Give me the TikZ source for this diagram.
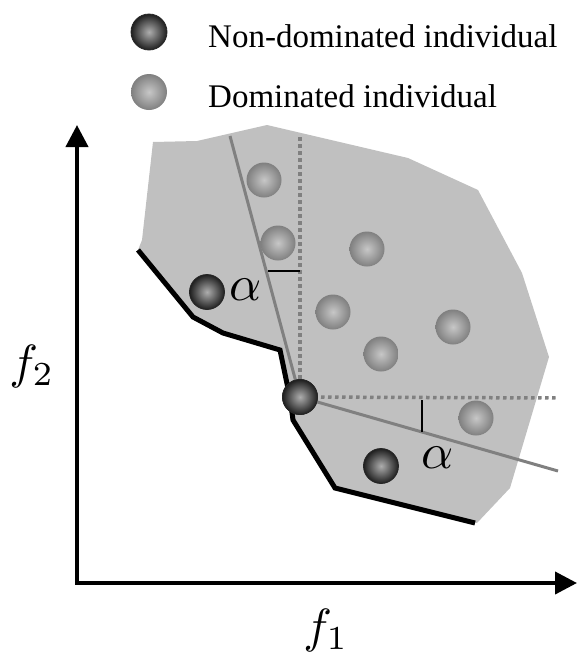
\documentclass[tikz,border=0pt]{standalone}
\usepackage{fontspec}
\setmainfont{Liberation Serif}
\usetikzlibrary{arrows.meta}
\definecolor{regiongray}{RGB}{192,192,192}
\definecolor{conegray}{RGB}{128,128,128}
\tikzset{
  ball/.style={circle, minimum size=35pt, inner sep=0pt, shading=radial},
  ndom/.style={ball, inner color=black!32, outer color=black!88, draw=black!85, line width=0.8pt},
  dom/.style={ball, inner color=black!22, outer color=black!50},
  axis/.style={line width=4pt, {Triangle[length=22pt,width=22pt]}-{Triangle[length=22pt,width=22pt]}},
  front/.style={line width=5pt, line join=miter},
  cone/.style={conegray, line width=3pt},
  dots/.style={conegray, line width=3.5pt, dash pattern=on 3.5pt off 3.5pt},
  tick/.style={black, line width=1.2pt},
  legtext/.style={anchor=base west, inner sep=0pt, font=\fontsize{33}{36}\selectfont},
  alab/.style={inner sep=0pt, font=\fontsize{10}{12}\selectfont},
  axlab/.style={inner sep=0pt, font=\fontsize{10}{12}\selectfont},
}
\begin{document}
\begin{tikzpicture}[x=1pt,y=-1pt]
\useasboundingbox (0,0) rectangle (577,659);
% feasible region
\fill[regiongray] (142,240) -- (153,142) -- (197,141) -- (267,125) -- (408,158) -- (478,190)
  -- (522,273) -- (549,357) -- (510,488) -- (477,523) -- (335,490) -- (293,420)
  -- (290,395) -- (280,350) -- (223,333) -- (193,317) -- (138,250) -- cycle;
% Pareto front
\draw[front] (138,250) -- (193,317) -- (223,333) -- (280,350) -- (290,398) -- (293,420) -- (335,488) -- (475,523);
% nodes
\node[ndom] (c) at (300,397) {};
\coordinate (vtop) at (300,137);
\coordinate (hend) at (557,398);
\coordinate (ctop) at (230,136);
\coordinate (cend) at (558,471);
\draw[dots] (vtop) -- (c.center);
\draw[dots] (c.center) -- (hend);
\draw[cone] (ctop) -- (c.center);
\draw[cone] (c.center) -- (cend);
\coordinate (t1a) at (268,271);
\coordinate (t1b) at (300,271);
\coordinate (t2a) at (422,400);
\coordinate (t2b) at (422,432);
\draw[tick] (t1a) -- (t1b);
\draw[tick] (t2a) -- (t2b);
\node[ndom] (c) at (300,397) {};
\node[ndom] (n1) at (207,292) {};
\node[ndom] (n2) at (381,466) {};
\node[dom] (d1) at (264,180) {};
\node[dom] (d2) at (278,243) {};
\node[dom] (d3) at (367,249) {};
\node[dom] (d4) at (333,312) {};
\node[dom] (d5) at (381,354) {};
\node[dom] (d6) at (453,327) {};
\node[dom] (d7) at (476,418) {};
\node[alab] (a1) at (246,290) {\scalebox{5}{$\alpha$}};
\node[alab] (a2) at (438,458) {\scalebox{5}{$\alpha$}};
% axes
\coordinate (o) at (77,583);
\coordinate (ytip) at (77,125);
\coordinate (xtip) at (577,583);
\draw[axis] (ytip) -- (o) -- (xtip);
\node[axlab] (f2) at (32,366) {\scalebox{4.8}{$f_{2}$}};
\node[axlab] (f1) at (326,630) {\scalebox{4.8}{$f_{1}$}};
% legend
\node[ndom, minimum size=36pt] (l1) at (149,32) {};
\node[dom, minimum size=36pt] (l2) at (149,92) {};
\node[legtext] (t1) at (208,47) {Non-dominated individual};
\node[legtext] (t2) at (208,107) {Dominated individual};
\end{tikzpicture}
\end{document}
